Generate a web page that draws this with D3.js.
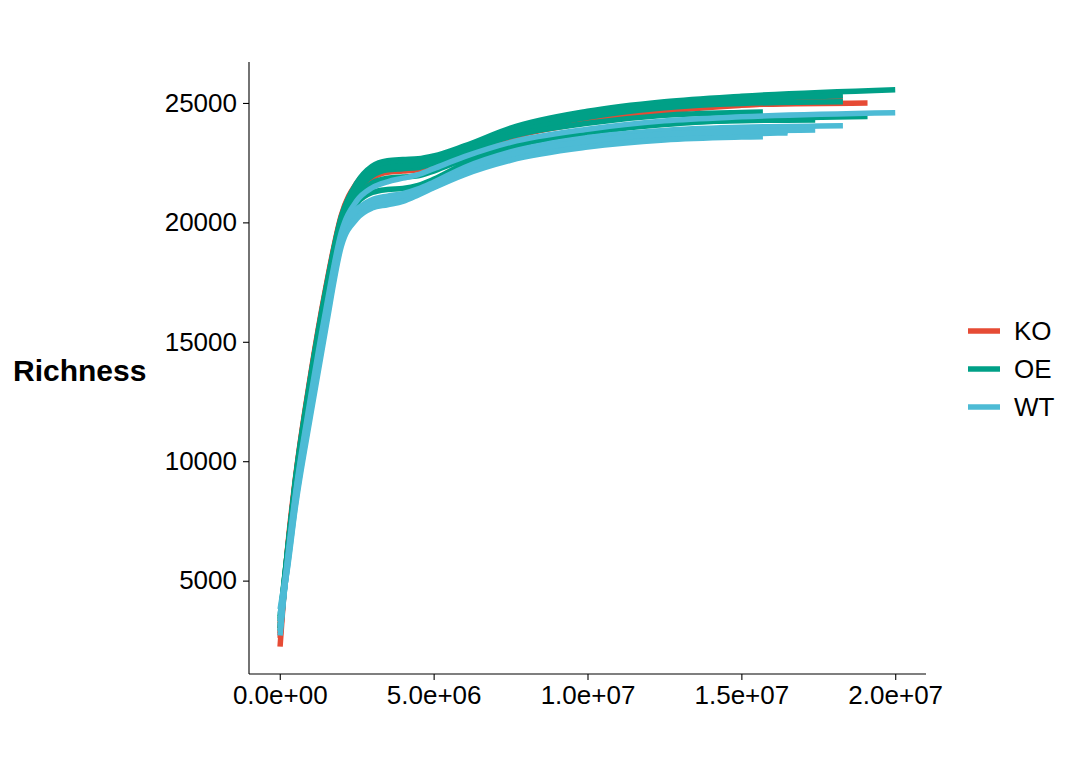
<!DOCTYPE html>
<html>
<head>
<meta charset="utf-8">
<script src="https://cdn.jsdelivr.net/npm/d3@7"></script>
<style>
  body { margin: 0; background: #fff; }
  svg text { font-family: "Liberation Sans", Arial, sans-serif; }
</style>
</head>
<body>
<div id="chart"></div>
<script>
// sequencing depths shared by every rarefaction curve (last point is per sample)
const depthGrid = [1e4, 2.5e5, 5e5, 1e6, 1.5e6, 2e6, 2.5e6, 3e6, 3.5e6, 4e6, 4.5e6, 5e6, 6e6, 7.5e6, 1e7, 1.25e7, 1.5e7];

const groups = ["KO", "OE", "WT"];

// end depth of each sample
const koEndDepth = [1.91e7, 1.83e7, 1.74e7, 1.65e7, 1.83e7, 1.57e7];
const oeEndDepth = [2.0e7, 1.83e7, 1.83e7, 1.91e7, 1.74e7, 1.57e7];
const wtEndDepth = [2.0e7, 1.83e7, 1.74e7, 1.65e7, 1.57e7, 1.65e7];

// richness at depthGrid, then at the sample's end depth
const koRichness = [
  [2238, 6300, 9200, 13600, 17300, 20300, 21650, 22250, 22450, 22500, 22550, 22700, 23100, 23750, 24350, 24750, 24920, 25000],
  [2600, 6180, 9020, 13345, 17045, 20105, 21450, 22100, 22300, 22350, 22400, 22550, 22950, 23650, 24300, 24750, 24980, 25150],
  [2800, 6060, 8840, 13090, 16790, 19910, 21300, 21950, 22150, 22200, 22250, 22400, 22850, 23550, 24200, 24650, 24900, 25050],
  [3000, 6020, 8780, 13005, 16705, 19845, 21200, 21850, 22100, 22150, 22200, 22350, 22800, 23550, 24250, 24750, 25000, 25100],
  [3200, 6260, 9140, 13515, 17215, 20235, 21600, 22200, 22420, 22470, 22500, 22650, 23050, 23700, 24300, 24750, 24950, 25050],
  [2700, 6140, 8960, 13260, 16960, 20040, 21400, 22000, 22250, 22300, 22350, 22500, 22900, 23600, 24250, 24700, 24980, 25000]
];
const oeRichness = [
  [3300, 6260, 9140, 13515, 17215, 20235, 21650, 22350, 22580, 22630, 22660, 22780, 23200, 23950, 24650, 25050, 25280, 25556],
  [3500, 6220, 9080, 13430, 17130, 20170, 21500, 22200, 22450, 22500, 22530, 22680, 23100, 23850, 24550, 24950, 25150, 25300],
  [3000, 6100, 8900, 13175, 16875, 19975, 21300, 21950, 22200, 22250, 22300, 22480, 22950, 23700, 24400, 24800, 24980, 25050],
  [2900, 5900, 8600, 12750, 16450, 19650, 20800, 21250, 21380, 21420, 21550, 21800, 22450, 23150, 23750, 24100, 24300, 24430],
  [3100, 5980, 8720, 12920, 16620, 19780, 21050, 21650, 21850, 21900, 21950, 22150, 22650, 23300, 23850, 24150, 24260, 24290],
  [3400, 6180, 9020, 13345, 17045, 20105, 21400, 22050, 22300, 22350, 22400, 22550, 22950, 23600, 24150, 24480, 24600, 24620]
];
const wtRichness = [
  [2700, 5860, 8540, 12665, 16365, 19585, 20900, 21450, 21700, 21850, 22000, 22250, 22750, 23350, 23900, 24250, 24420, 24590],
  [2900, 5740, 8360, 12410, 16110, 19390, 20500, 20950, 21100, 21200, 21400, 21680, 22300, 22950, 23550, 23850, 23980, 24050],
  [3100, 5660, 8240, 12240, 15940, 19260, 20350, 20780, 20920, 21050, 21280, 21550, 22150, 22800, 23400, 23700, 23820, 23870],
  [3300, 5580, 8120, 12070, 15770, 19130, 20250, 20680, 20820, 20950, 21200, 21480, 22060, 22680, 23250, 23550, 23700, 23745],
  [3600, 5500, 8000, 11900, 15600, 19000, 20150, 20600, 20740, 20880, 21150, 21450, 22000, 22600, 23150, 23450, 23570, 23590],
  [3800, 5780, 8420, 12495, 16195, 19455, 20550, 20850, 21000, 21120, 21330, 21600, 22220, 22850, 23400, 23700, 23780, 23800]
];

const xTicks = [0, 5e6, 1e7, 1.5e7, 2e7];
const yTicks = [5000, 10000, 15000, 20000, 25000];

const colors = { KO: "#E64B35", OE: "#00A087", WT: "#4DBBD5" };

const width = 1080, height = 771;
const panel = { left: 249, right: 926, top: 62, bottom: 674 };

const svg = d3.select("#chart").append("svg")
  .attr("width", width)
  .attr("height", height);

const x = d3.scaleLinear().domain([-1.0e6, 2.1e7]).range([panel.left, panel.right]);
const y = d3.scaleLinear().domain([1090, 26715]).range([panel.bottom, panel.top]);

// build curve table
const bySample = { KO: [koRichness, koEndDepth], OE: [oeRichness, oeEndDepth], WT: [wtRichness, wtEndDepth] };
const curves = [];
groups.forEach(g => {
  const [rich, ends] = bySample[g];
  rich.forEach((vals, i) => {
    const pts = depthGrid.map((d, j) => [d, vals[j]]);
    pts.push([ends[i], vals[vals.length - 1]]);
    curves.push({ group: g, id: g + (i + 1), points: pts });
  });
});

const line = d3.line()
  .x(d => x(d[0]))
  .y(d => y(d[1]))
  .curve(d3.curveMonotoneX);

svg.append("g")
  .selectAll("path")
  .data(curves)
  .enter()
  .append("path")
  .attr("d", d => line(d.points))
  .attr("fill", "none")
  .attr("stroke", d => colors[d.group])
  .attr("stroke-width", 5.5)
  .attr("stroke-linecap", "butt")
  .attr("stroke-linejoin", "round");

// axes
const xAxis = svg.append("g")
  .attr("transform", "translate(0," + panel.bottom + ")")
  .call(d3.axisBottom(x).tickValues(xTicks).tickSize(6).tickPadding(6)
    .tickFormat(d => d3.format(".1e")(d).replace(/e([+-])(\d)$/, "e$10$2")));
const yAxis = svg.append("g")
  .attr("transform", "translate(" + panel.left + ",0)")
  .call(d3.axisLeft(y).tickValues(yTicks).tickSize(6).tickPadding(6).tickFormat(d3.format("d")));

[xAxis, yAxis].forEach(a => {
  a.select(".domain").attr("stroke", "#000").attr("stroke-width", 1.1);
  a.selectAll(".tick line").attr("stroke", "#000").attr("stroke-width", 1.1);
  a.selectAll(".tick text").attr("fill", "#000").style("font-size", "26px");
});
// axis lines span the full panel
xAxis.select(".domain").attr("d", "M" + panel.left + ",0H" + panel.right);
yAxis.select(".domain").attr("d", "M0," + panel.bottom + "V" + panel.top);

svg.append("text")
  .attr("x", 13)
  .attr("y", 370)
  .attr("dy", "0.35em")
  .style("font-size", "30px")
  .style("font-weight", "bold")
  .text("Richness");

// legend
const legend = svg.append("g").attr("transform", "translate(968,331)");
groups.forEach((g, i) => {
  const row = legend.append("g").attr("transform", "translate(0," + i * 38 + ")");
  row.append("line")
    .attr("x1", 0).attr("x2", 32)
    .attr("stroke", colors[g]).attr("stroke-width", 5.5);
  row.append("text")
    .attr("x", 46).attr("dy", "0.35em")
    .style("font-size", "26px")
    .text(g);
});
</script>
</body>
</html>
